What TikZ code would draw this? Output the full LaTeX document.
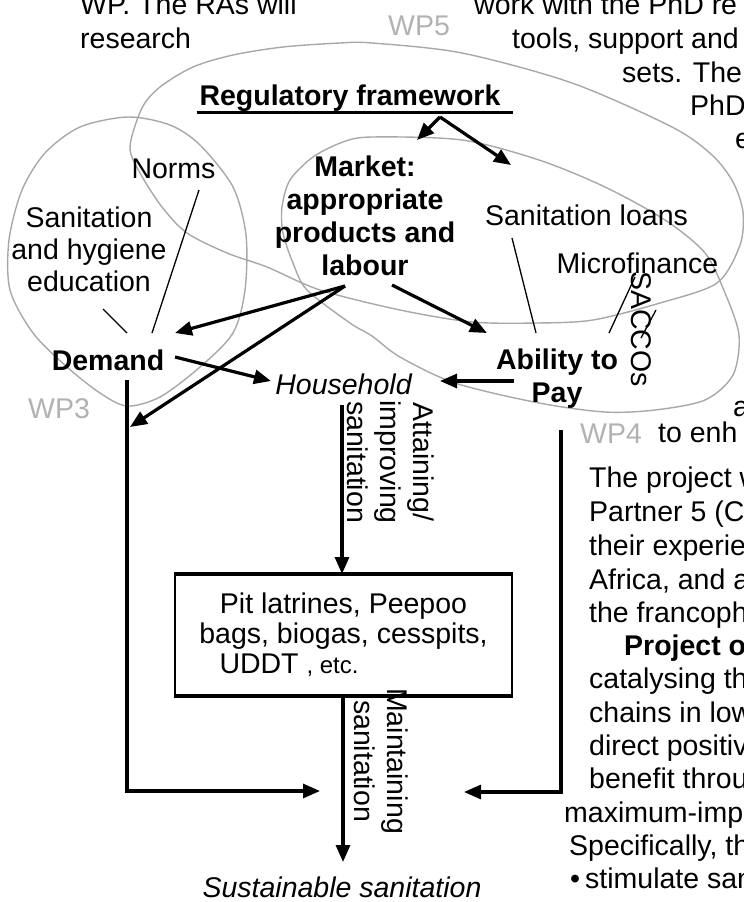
\documentclass[tikz,border=0pt]{standalone}
\usepackage{fontspec}
\setmainfont{Liberation Sans}
\usetikzlibrary{arrows.meta}
\definecolor{loopgray}{RGB}{168,168,168}
\definecolor{labelgray}{RGB}{178,178,178}
\newcommand{\figfont}{\fontsize{28.5}{33}\selectfont}

\begin{document}
\begin{tikzpicture}[x=1pt,y=-1pt,
        every node/.style={inner sep=0pt,font=\figfont},
        bold/.style={font=\figfont\bfseries},
        ital/.style={font=\figfont\itshape},
        page/.style={anchor=base west},
        wp/.style={draw=loopgray,line width=1.4pt},
        wplabel/.style={anchor=base west,text=labelgray},
        arr/.style={line width=3.2pt,-{Triangle[length=17pt,width=14pt]}},
        leader/.style={line width=1.3pt}]
    \useasboundingbox (0,0) rectangle (744,902);
    \clip (0,0) rectangle (744,902);

    \node[page] (pa) at (80,14) {WP. The RAs will};
    \node[page] (pb) at (80,48) {research};
    \node[page] (pc) at (474,14) {work with the PhD re};
    \node[page] (pd) at (512,48) {tools, support and};
    \node[page] (pe) at (622,82) {sets. The};
    \node[page] (pf) at (690,115) {PhD};
    \node[page] (pg) at (735,148) {e};
    \node[page] (ph) at (733,416) {a};
    \node[page] (pi) at (658,442) {to enh};
    \node[page] (pj) at (589,487) {The project w};
    \node[page] (pk) at (589,521) {Partner 5 (C};
    \node[page] (pl) at (589,555) {their experie};
    \node[page] (pm) at (589,589) {Africa, and a};
    \node[page] (pn) at (589,622) {the francoph};
    \node[page,bold] (po) at (624,655) {Project ou};
    \node[page] (pp) at (589,688) {catalysing th};
    \node[page] (pq) at (589,722) {chains in low};
    \node[page] (pr) at (589,755) {direct positive};
    \node[page] (ps) at (589,788) {benefit through};
    \node[page] (pt) at (564,822) {maximum-impact};
    \node[page] (pu) at (569,855) {Specifically, the};
    \node[page] (pv) at (570,888) {\textbullet\hspace{5pt}stimulate san};

    \draw[wp] plot[smooth cycle] coordinates {(128,117) (80,127) (45,153) (22,190) (9,240)
        (10,290) (33,333) (67,367) (100,393) (127,406) (160,397) (200,367) (233,333)
        (245,290) (246,235) (233,187) (200,145) (170,125)};
    \draw[wp] plot[smooth cycle] coordinates {(130,147) (142,108) (160,87) (193,67) (233,55)
        (283,47) (340,43) (372,43) (462,53) (572,83) (672,127) (712,155) (733,182)
        (743,212) (740,245) (717,283) (660,303) (593,320) (537,323) (472,322) (400,310)
        (320,290) (267,267) (227,253) (187,233) (162,207) (140,173)};
    \draw[wp] plot[smooth cycle] coordinates {(343,142) (372,137) (462,140) (539,160)
        (605,187) (665,220) (705,253) (725,293) (739,335) (733,375) (705,400) (655,410)
        (605,412) (539,403) (455,383) (400,357) (372,336) (350,323) (307,290) (293,263)
        (283,233) (282,207) (290,180) (313,157)};
    \node[wplabel] (wp5) at (388,35) {WP5};
    \node[wplabel] (wp3) at (28,418) {WP3};
    \node[wplabel] (wp4) at (580,443) {WP4};

    \node[bold,anchor=base] (reg) at (350,105) {Regulatory framework};
    \draw[line width=3pt] ([xshift=-2pt,yshift=-7pt]reg.base west) -- ([xshift=12pt,yshift=-7pt]reg.base east);
    \node[anchor=base] (norms) at (173.5,178) {Norms};
    \node[align=center,font=\fontsize{28.5}{32}\selectfont] (hygiene) at (89,249.6) {Sanitation\\and hygiene\\education};
    \node[bold,align=center] (market) at (365,216) {Market:\\appropriate\\products and\\labour};
    \node[anchor=base] (loans) at (586.5,225) {Sanitation loans};
    \node[anchor=base] (micro) at (637.5,273) {Microfinance};
    \node[rotate=-90] (saccos) at (641,329) {SACCOs};
    \node[bold,anchor=base] (demand) at (108,370) {Demand};
    \node[bold,align=center] (ability) at (557,379) {Ability to\\Pay};
    \node[ital,anchor=base] (house) at (343.5,394) {Household};
    \node[rotate=-90,align=center] (attain) at (391,462) {Attaining/\\improving\\sanitation};
    \node[draw,line width=2pt,minimum width=337pt,minimum height=120pt,align=center,
        font=\fontsize{28.5}{30}\selectfont] (box) at (343.5,635)
        {Pit latrines, Peepoo\\bags, biogas, cesspits,\\\makebox[248pt][l]{UDDT {\fontsize{24}{30}\selectfont, etc.}}};
    \draw[line width=3.5pt] (box.north west) -- (box.north east);
    \draw[line width=3.5pt] (box.south west) -- (box.south east);
    \node[rotate=-90,align=center] (maintain) at (381,761) {Maintaining\\sanitation};
    \node[ital,anchor=base] (sust) at (342,897) {Sustainable sanitation};

    \coordinate (regfork) at (440,117);
    \coordinate (mkttop) at (417,140);
    \coordinate (wp4top) at (511,165);
    \coordinate (labl) at (345,286);
    \coordinate (labr) at (392,285);
    \coordinate (demin) at (175,333);
    \coordinate (demline) at (130,427);
    \coordinate (abin) at (487,333);
    \coordinate (demout) at (175,357);
    \coordinate (housein) at (271,381);
    \coordinate (about) at (514,381);
    \coordinate (houseout) at (440,381);
    \coordinate (housedown) at (342,405);
    \coordinate (demtop) at (127,380);
    \coordinate (demend) at (320,791);
    \coordinate (abtop) at (561,430);
    \coordinate (abend) at (464,792);
    \coordinate (susttop) at (343,862);
    \coordinate (normsfoot) at (199,190);
    \coordinate (hygfoot) at (103,309);
    \coordinate (loansfoot) at (512,238);
    \coordinate (microfoot) at (635,277);
    \coordinate (saccofoot) at (656,310);

    \draw[arr] (regfork) -- (mkttop);
    \draw[arr] (regfork) -- (wp4top);
    \draw[arr] (labl) -- (demin);
    \draw[arr] (labl) -- (demline);
    \draw[arr] (labr) -- (abin);
    \draw[arr] (demout) -- (housein);
    \draw[arr] (about) -- (houseout);
    \draw[arr] (housedown) -- (housedown |- box.north);
    \draw[arr] (demtop) |- (demend);
    \draw[arr] (abtop) |- (abend);
    \draw[arr] (box.south -| susttop) -- (susttop);

    \draw[leader] (normsfoot) -- (152,333);
    \draw[leader] (hygfoot) -- (127,333);
    \draw[leader] (loansfoot) -- (536,333);
    \draw[leader] (microfoot) -- (609,333);
    \draw[leader] (saccofoot) -- (641,338);
\end{tikzpicture}
\end{document}
